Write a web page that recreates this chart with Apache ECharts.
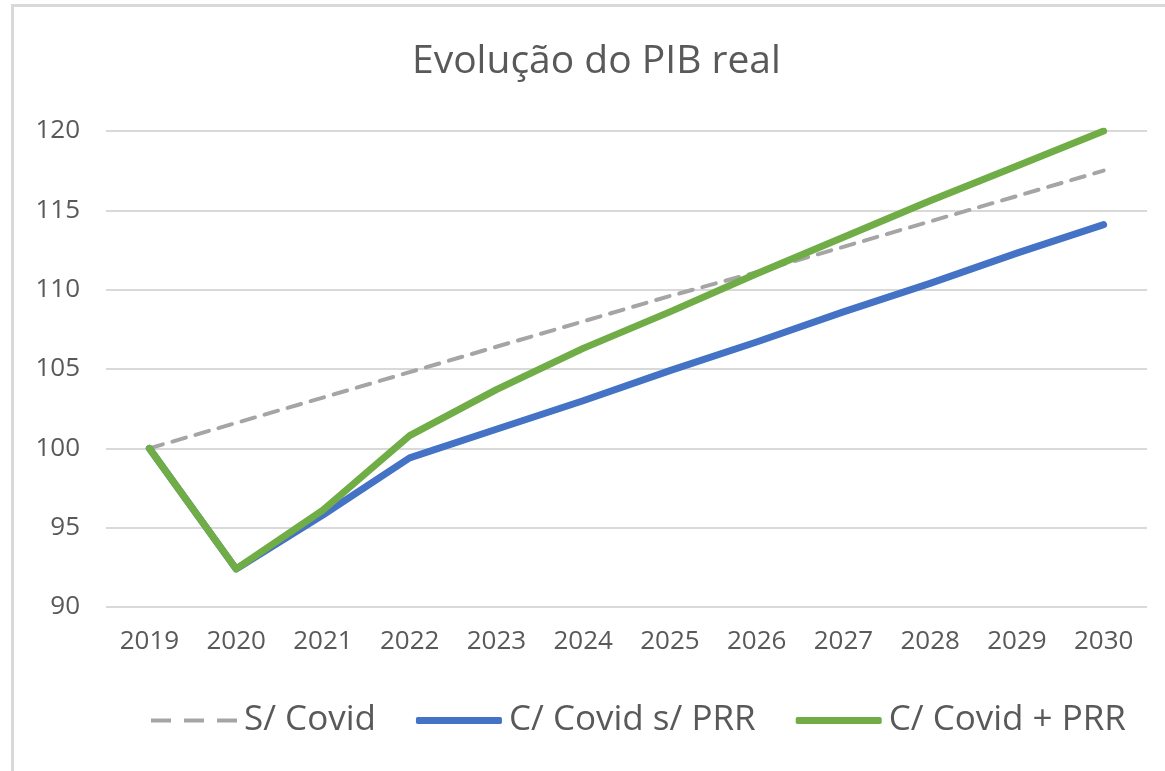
<!DOCTYPE html>
<html>
<head>
<meta charset="utf-8">
<style>
	html, body { margin: 0; padding: 0; background: #fff; }
	#chart { width: 1165px; height: 771px; }
</style>
<script src="https://cdn.jsdelivr.net/npm/echarts@6/dist/echarts.min.js"></script>
</head>
<body>
<div id="chart"></div>
<script>
	// dados
	const years = ["2019", "2020", "2021", "2022", "2023", "2024", "2025", "2026", "2027", "2028", "2029", "2030"];
	const semCovid = [100, 101.6, 103.2, 104.8, 106.4, 108.0, 109.6, 111.1, 112.7, 114.3, 115.9, 117.5];
	const comCovidSemPRR = [100, 92.4, 95.8, 99.4, 101.2, 103.0, 104.9, 106.7, 108.6, 110.4, 112.3, 114.1];
	const comCovidComPRR = [100, 92.4, 96.1, 100.8, 103.7, 106.3, 108.6, 111.0, 113.3, 115.6, 117.8, 120.0];
	const seriesNames = ["S/ Covid", "C/ Covid s/ PRR", "C/ Covid + PRR"];

	const FONT = "'Open Sans', sans-serif";
	const TEXT = "#595959";

	// ícones da legenda: tracejado e linha grossa
	const DASH_ICON = "path://M0,0L0,0M0,7L0,7M0,1.5H20V5.5H0ZM33,1.5H53V5.5H33ZM66,1.5H86V5.5H66Z";

	const chart = echarts.init(document.getElementById("chart"), null, { renderer: "canvas" });

	chart.setOption({
		animation: false,
		backgroundColor: "#fff",
		title: {
			text: "Evolução do PIB real",
			left: 407,
			top: 37,
			textStyle: { fontFamily: FONT, fontSize: 39, fontWeight: "normal", color: TEXT }
		},
		graphic: [{
			type: "rect",
			shape: { x: 12.5, y: 5.5, width: 1400, height: 1000 },
			style: { fill: null, stroke: "#d9d9d9", lineWidth: 3 },
			silent: true
		}],
		grid: { left: 106, right: 18, top: 131, bottom: 164 },
		legend: {
			left: 146,
			top: 698,
			itemWidth: 86,
			itemHeight: 7,
			itemGap: 40,
			data: [
				{ name: seriesNames[0], icon: DASH_ICON, itemStyle: { color: "#a5a5a5" } },
				{ name: seriesNames[1], icon: "roundRect", itemStyle: { color: "#4472c4" } },
				{ name: seriesNames[2], icon: "roundRect", itemStyle: { color: "#70ad47" } }
			],
			textStyle: { fontFamily: FONT, fontSize: 35, color: TEXT, padding: [0, 0, 0, 2] }
		},
		xAxis: {
			type: "category",
			data: years,
			boundaryGap: true,
			axisLine: { show: false },
			axisTick: { show: false },
			axisLabel: { fontFamily: FONT, fontSize: 26, color: TEXT, margin: 22 }
		},
		yAxis: {
			type: "value",
			min: 90,
			max: 120,
			interval: 5,
			axisLine: { show: false },
			axisTick: { show: false },
			axisLabel: { fontFamily: FONT, fontSize: 26, color: TEXT, margin: 26 },
			splitLine: { lineStyle: { color: "#d9d9d9", width: 2 } }
		},
		series: [
			{
				name: seriesNames[0],
				type: "line",
				data: semCovid,
				symbol: "none",
				color: "#a5a5a5",
				lineStyle: { color: "#a5a5a5", width: 4, type: [14, 10], cap: "round" }
			},
			{
				name: seriesNames[1],
				type: "line",
				data: comCovidSemPRR,
				symbol: "none",
				color: "#4472c4",
				lineStyle: { color: "#4472c4", width: 7, cap: "round", join: "round" }
			},
			{
				name: seriesNames[2],
				type: "line",
				data: comCovidComPRR,
				symbol: "none",
				color: "#70ad47",
				lineStyle: { color: "#70ad47", width: 7, cap: "round", join: "round" }
			}
		]
	});
</script>
</body>
</html>
